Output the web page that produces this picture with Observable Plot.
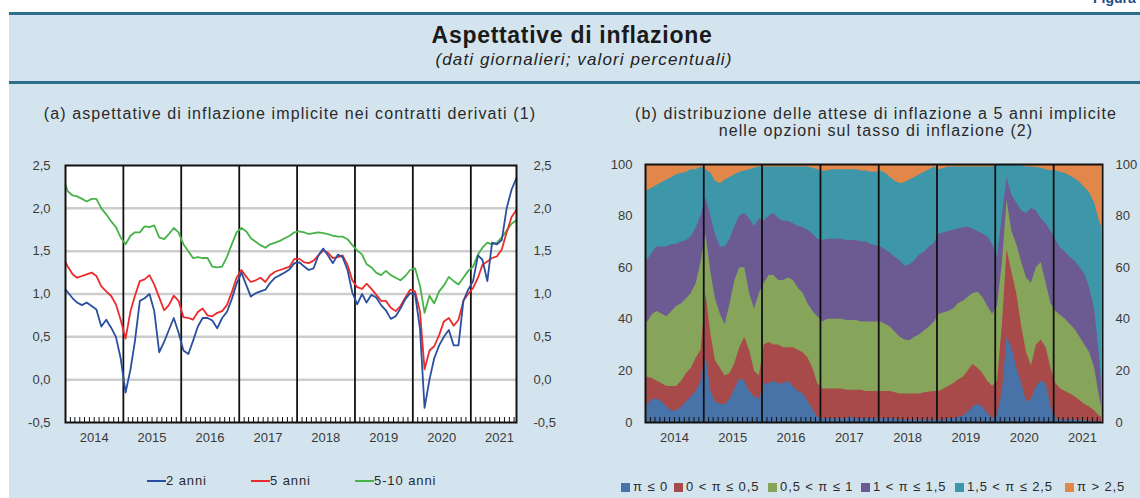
<!DOCTYPE html>
<html>
<head>
<meta charset="utf-8">
<script src="https://cdn.jsdelivr.net/npm/d3@7"></script>
<script src="https://cdn.jsdelivr.net/npm/@observablehq/plot@0.6"></script>
<style>
  body { margin: 0; background: #fff; }
  #page { position: relative; width: 1140px; height: 498px; overflow: hidden; font-family: "Liberation Sans", Arial, sans-serif; color: #2a2a2a; }
  #band { position: absolute; left: 9px; top: 13px; right: 0; bottom: 0; background: #d4e4ee; }
  .rule { position: absolute; left: 9px; right: 0; height: 3px; background: #2f6d8d; }
  #fig { position: absolute; left: 1093px; top: -9px; font-size: 14px; line-height: 14px; font-weight: bold; color: #1d4a86; white-space: nowrap; }
  #title { position: absolute; left: 372px; width: 400px; top: 24px; text-align: center; font-size: 23px; line-height: 23px; font-weight: bold; letter-spacing: 0.7px; color: #1a1a1a; }
  #subtitle { position: absolute; left: 384px; width: 400px; top: 51px; text-align: center; font-size: 17px; line-height: 17px; font-style: italic; letter-spacing: 1.1px; color: #222; }
  .ptitle { position: absolute; text-align: center; font-size: 16px; line-height: 17px; letter-spacing: 1.1px; color: #2a2a2a; white-space: nowrap; }
  .chart { position: absolute; }
  .leg { position: absolute; font-size: 13px; line-height: 14px; letter-spacing: 0.9px; color: #2a2a2a; white-space: nowrap; }
  .lsw { position: absolute; height: 2px; }
  .ssw { position: absolute; width: 9px; height: 9px; }
</style>
</head>
<body>
<div id="page">
  <div id="band"></div>
  <div class="rule" style="top:12px"></div>
  <div class="rule" style="top:81px"></div>
  <div id="fig">Figura 4</div>
  <div id="title">Aspettative di inflazione</div>
  <div id="subtitle">(dati giornalieri; valori percentuali)</div>
  <div class="ptitle" style="left:40px;width:500px;top:105px">(a) aspettative di inflazione implicite nei contratti derivati (1)</div>
  <div class="ptitle" style="left:626px;width:500px;top:105px">(b) distribuzione delle attese di inflazione a 5 anni implicite<br>nelle opzioni sul tasso di inflazione (2)</div>
  <div id="chartA" class="chart" style="left:0px;top:150px"></div>
  <div id="chartB" class="chart" style="left:575px;top:150px"></div>
  <div id="legA"></div>
  <div id="legB"></div>
</div>
<script>
// ---------- Panel (a): daily inflation expectations (read monthly, mid-month) ----------
const seriesA = ["2 anni", "5 anni", "5-10 anni"];
const colorsA = ["#2a4f9e", "#ec2c2c", "#47b347"];

const blue2y = [1.05,
  1.02,0.95,0.90,0.87,0.90,0.86,0.82,0.62,0.70,0.61,0.50,0.25,
  -0.15,0.12,0.45,0.92,0.95,1.00,0.80,0.32,0.44,0.58,0.72,0.55,
  0.34,0.30,0.45,0.62,0.72,0.72,0.69,0.60,0.72,0.79,0.94,1.12,
  1.25,1.10,0.97,1.01,1.03,1.05,1.13,1.19,1.22,1.25,1.29,1.36,
  1.37,1.32,1.28,1.30,1.45,1.53,1.45,1.36,1.46,1.43,1.28,1.02,
  0.88,1.00,0.90,0.99,0.96,0.87,0.81,0.71,0.74,0.83,0.94,1.01,
  1.00,0.60,-0.33,0.00,0.25,0.40,0.50,0.58,0.40,0.40,0.92,1.05,
  1.15,1.45,1.40,1.15,1.60,1.58,1.63,2.00,2.22,2.35];

const red5y = [1.37,
  1.32,1.23,1.19,1.21,1.23,1.25,1.21,1.09,1.03,0.98,0.88,0.70,
  0.48,0.80,0.98,1.15,1.17,1.22,1.11,0.96,0.81,0.87,0.98,0.92,
  0.73,0.72,0.70,0.79,0.83,0.75,0.74,0.78,0.80,0.87,1.02,1.19,
  1.28,1.20,1.14,1.16,1.19,1.14,1.22,1.26,1.28,1.30,1.32,1.41,
  1.41,1.37,1.36,1.39,1.45,1.51,1.48,1.42,1.43,1.45,1.34,1.16,
  1.08,1.06,1.12,1.06,0.99,0.92,0.92,0.84,0.80,0.86,0.96,1.05,
  1.03,0.80,0.12,0.34,0.39,0.52,0.68,0.72,0.63,0.70,0.92,1.00,
  1.07,1.19,1.34,1.38,1.42,1.44,1.52,1.72,1.90,1.98];

const green510y = [2.27,
  2.20,2.15,2.14,2.11,2.08,2.11,2.11,2.00,1.93,1.85,1.78,1.66,
  1.58,1.68,1.72,1.72,1.79,1.78,1.80,1.66,1.64,1.70,1.77,1.72,
  1.58,1.50,1.42,1.43,1.42,1.42,1.32,1.31,1.32,1.43,1.58,1.72,
  1.77,1.73,1.65,1.61,1.57,1.54,1.58,1.60,1.62,1.65,1.68,1.72,
  1.73,1.72,1.70,1.71,1.72,1.71,1.70,1.68,1.67,1.67,1.64,1.57,
  1.51,1.46,1.35,1.31,1.25,1.22,1.27,1.22,1.19,1.16,1.21,1.28,
  1.30,1.10,0.78,0.98,0.89,1.03,1.10,1.20,1.15,1.11,1.19,1.27,
  1.32,1.46,1.54,1.60,1.58,1.60,1.66,1.74,1.82,1.86];

const ticksA = [-0.5, 0, 0.5, 1, 1.5, 2, 2.5];

// ---------- Panel (b): cumulative probabilities (upper bound of each band) ----------
const categoriesB = ["π ≤ 0", "0 < π  ≤ 0,5", "0,5 < π  ≤ 1", "1 < π  ≤ 1,5", "1,5 < π  ≤ 2,5", "π > 2,5"];
const colorsB = ["#4873a8", "#a84a49", "#87a55a", "#6c5a92", "#3e96a9", "#e2874a"];

const le0 = [6.5,
  7,9,9,8,6,4.5,4.5,6,8,10,12,16,
  26,12,8,7,7,9,13,17,16,12,10,9,
  15,15,16,15,15,16,14,12,11,8,5,2,
  1.5,1.5,1.5,1.5,1.5,1.5,2,1.5,1.5,1.5,1.5,1.5,
  1.5,1.5,1.5,1.5,1,1,1,1,1,1,1,1,
  1,1,1.5,1.5,2,2.5,4,6,7,6,3.5,1.5,
  3,12,33,29,21,15,8,9,14,16,15,6,
  1.5,1,1,1,1,0.8,0.7,0.5,0.3,0.2,
  0.1];
const le05 = [17.5,
  17.5,17,16,15,14,14,14,16,19,21,25,28,
  50,34,24,21,18,19,23,29,33,28,20,18,
  30,31,30,30,29,29,29,28,27,25,21,15,
  13,13,13,13,13,12.5,12.5,12.5,12.5,12,12,12,
  12,12,12,11.5,11,11,11,11,11,11.5,11.8,12,
  12,13,14,15,16.5,17.5,20,22.5,21,19,16,14,
  16,38,67,58,50,37,27,22,30,32,29,21,
  15,13,12,11,10,8.5,7,6,4.5,2.5,
  2];
const le1 = [39,
  39,42,43,42,41,43,45,46,48,50,54,62,
  73,58,48,42,38,46,55,60,60,50,44,50,
  54,57,57,55,55,56,55,52,50,46,43,41,
  39,40,40,40,40,39.5,39.5,39.5,39,39,39,39,
  39,38,37,35,33,32,31.7,33,34,35.6,37,39,
  42,42.5,43,44,46,47,48.5,50,50.5,48.5,45,42,
  45,62,86,74,69,62,56,54,60,62,54,46,
  43,41.5,40,38,36,33,30,27,21,10,
  6];
const le15 = [63,
  63,66,68,68,68,69,69,70,70.5,72,75.5,80,
  87,80,73,68,68,71,76,80,81,79,76,79,
  78,80,81,79,78,78,77,76,75.5,74.5,73,71,
  70.5,71,71,71,71,70.5,70.5,70.5,70,70,69,68.5,
  68,66.8,65.7,64,62.7,60.6,61,62.7,65,66,68,69.5,
  73,73.5,74,74.5,75,75.5,75.7,75,74,73,72,69,
  64,80,95,88,85,82,81,83,82,79,77,74,
  70.5,67.5,66,64,62.5,60,57.5,52,44,26,
  15];
const le25 = [89,
  90,91,92,93,94,95,96,96.5,97,98,98,99,
  98,96.5,93.5,92.5,94,95,96,97,97.5,98,98.5,99,
  99,99,99,99,99,99,99,99,99,99,98.5,98,
  97.5,97.5,98,98,98,98,98,98,97.5,97.5,97,97,
  97.5,96.5,95,93.5,92.5,93,94,95,96,97,98,99,
  98,98.5,99,99,99,99,99,99,99,99,99,99,
  99.5,99.8,100,100,99.7,99.5,99,99,98.8,98.5,98,97.6,
  97.6,97,96.5,95.5,94.5,93,91,89,85,78,
  76];
const ticksB = [0, 20, 40, 60, 80, 100];

// ---------- dates ----------
const U = (y, m, d) => new Date(Date.UTC(y, m, d));
const midMonths = d3.utcMonth.range(U(2014,0,1), U(2021,10,1)).map(d => d3.utcDay.offset(d, 14));
const datesA = [U(2014,0,2), ...midMonths];
const datesB = [U(2014,0,2), ...midMonths, U(2021,9,28)];
const yearStarts = d3.utcYear.range(U(2015,0,1), U(2022,0,1));
const monthStarts = d3.utcMonth.range(U(2014,1,1), U(2021,10,1)).filter(d => d.getUTCMonth() !== 0);
const midYears = d3.utcYear.range(U(2014,0,1), U(2022,0,1)).map(d => d3.utcMonth.offset(d, 6));

const fmtComma = d => d3.format(".1f")(d).replace(".", ",").replace("−", "-");
const yearFmt = d3.utcFormat("%Y");
const plotStyle = { fontFamily: "Liberation Sans, Arial, sans-serif", fontSize: "13px", background: "transparent", color: "#3a3a3a", overflow: "visible" };

const rowsA = datesA.map((d, i) => ({ date: d, b: blue2y[i], r: red5y[i], g: green510y[i] }));

const chartA = Plot.plot({
  width: 570, height: 300,
  marginLeft: 65, marginRight: 54, marginTop: 15, marginBottom: 28,
  style: plotStyle,
  x: { type: "utc", domain: [U(2014,0,1), U(2021,9,16)] },
  y: { domain: [-0.5, 2.5] },
  marks: [
    Plot.frame({ fill: "white", stroke: "none" }),
    Plot.ruleY(ticksA.slice(1, -1), { stroke: "#cdcdcd", strokeWidth: 2.5 }),
    Plot.ruleX(yearStarts, { stroke: "#111", strokeWidth: 1.8 }),
    Plot.ruleX(monthStarts, { y1: -0.5, y2: -0.5, insetTop: -5, stroke: "#111", strokeWidth: 1 }),
    Plot.line(rowsA, { x: "date", y: "g", stroke: colorsA[2], strokeWidth: 1.8 }),
    Plot.line(rowsA, { x: "date", y: "r", stroke: colorsA[1], strokeWidth: 1.8 }),
    Plot.line(rowsA, { x: "date", y: "b", stroke: colorsA[0], strokeWidth: 1.8 }),
    Plot.frame({ stroke: "#111", strokeWidth: 2 }),
    Plot.axisX({ ticks: midYears, tickSize: 0, tickPadding: 10, tickFormat: yearFmt, label: null }),
    Plot.axisY({ ticks: ticksA, anchor: "left", tickSize: 0, tickPadding: 15, tickFormat: fmtComma, label: null }),
    Plot.axisY({ ticks: ticksA, anchor: "right", tickSize: 0, tickPadding: 17, tickFormat: fmtComma, label: null })
  ]
});
document.getElementById("chartA").appendChild(chartA);

const cdf = [le0, le05, le1, le15, le25];
const areaMarks = [Plot.areaY(datesB, { x: d => d, y1: 0, y2: 100, fill: colorsB[5] })];
for (let k = 4; k >= 0; k--) {
  areaMarks.push(Plot.areaY(datesB, { x: d => d, y1: 0, y2: (d, i) => cdf[k][i], fill: colorsB[k] }));
}

const chartB = Plot.plot({
  width: 565, height: 300,
  marginLeft: 70, marginRight: 38, marginTop: 14, marginBottom: 28,
  style: plotStyle,
  x: { type: "utc", domain: [U(2014,0,1), U(2021,10,3)] },
  y: { domain: [0, 100] },
  marks: [
    Plot.frame({ fill: "white", stroke: "none" }),
    ...areaMarks,
    Plot.ruleX(yearStarts, { stroke: "#111", strokeWidth: 1.8 }),
    Plot.ruleX(monthStarts, { y1: 0, y2: 0, insetTop: -5, stroke: "#111", strokeWidth: 1 }),
    Plot.frame({ stroke: "#111", strokeWidth: 2 }),
    Plot.axisX({ ticks: midYears, tickSize: 0, tickPadding: 10, tickFormat: yearFmt, label: null }),
    Plot.axisY({ ticks: ticksB, anchor: "left", tickSize: 0, tickPadding: 13, label: null }),
    Plot.axisY({ ticks: ticksB, anchor: "right", tickSize: 0, tickPadding: 13, label: null })
  ]
});
document.getElementById("chartB").appendChild(chartB);

// ---------- legends ----------
const legA = document.getElementById("legA");
const legAPos = [147, 251, 355];
seriesA.forEach((s, i) => {
  const sw = document.createElement("div");
  sw.className = "lsw";
  sw.style.cssText = `left:${legAPos[i]}px;top:480px;width:19px;background:${colorsA[i]}`;
  legA.appendChild(sw);
  const t = document.createElement("div");
  t.className = "leg";
  t.style.cssText = `left:${legAPos[i] + 19}px;top:474px`;
  t.textContent = s;
  legA.appendChild(t);
});
const legB = document.getElementById("legB");
const legBPos = [621, 674, 768, 861, 955, 1065];
categoriesB.forEach((c, i) => {
  const sw = document.createElement("div");
  sw.className = "ssw";
  sw.style.cssText = `left:${legBPos[i]}px;top:483px;background:${colorsB[i]}`;
  legB.appendChild(sw);
  const t = document.createElement("div");
  t.className = "leg";
  t.style.cssText = `left:${legBPos[i] + 12}px;top:480px`;
  t.textContent = c;
  legB.appendChild(t);
});
</script>
</body>
</html>
